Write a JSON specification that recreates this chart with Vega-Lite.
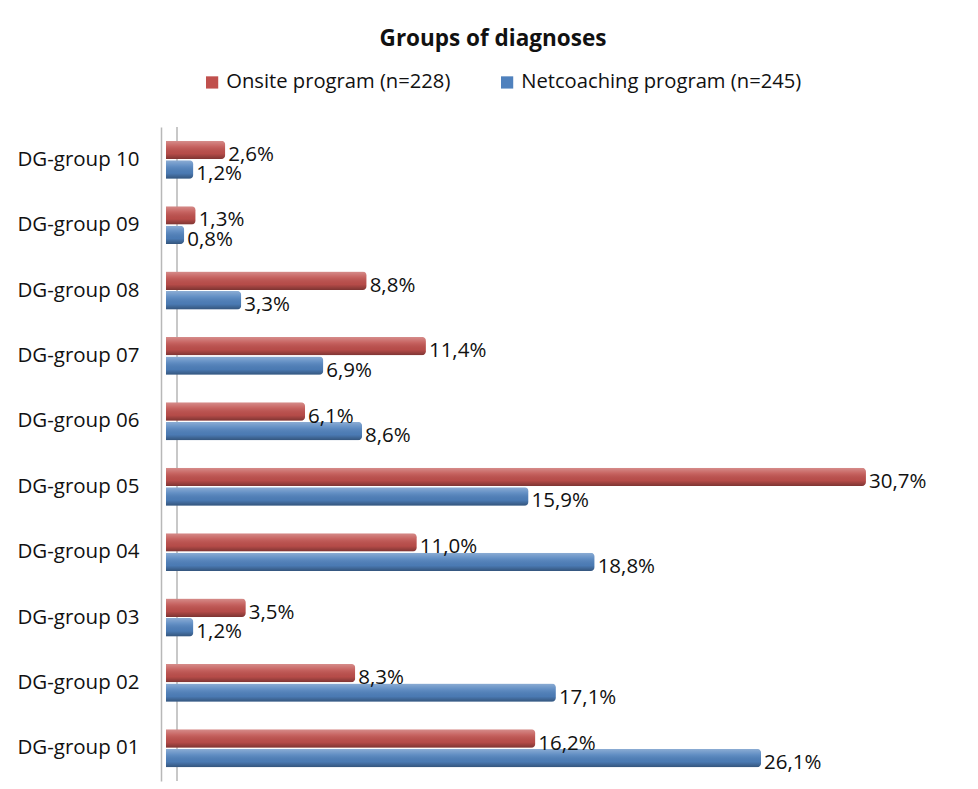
{
  "$schema": "https://vega.github.io/schema/vega-lite/v6.json",
  "width": 798,
  "height": 654,
  "autosize": {"type": "none"},
  "padding": {"left": 166, "top": 127, "right": 14, "bottom": 8},
  "background": "white",
  "title": {
    "text": "Groups of diagnoses",
    "font": "Open Sans",
    "fontSize": 22.5,
    "fontWeight": "bold",
    "color": "#111111",
    "anchor": "middle",
    "dx": -72,
    "offset": 22
  },
  "data": {
    "values": [
      {"group": "DG-group 10", "series": "Onsite program (n=228)", "value": 0.026},
      {"group": "DG-group 10", "series": "Netcoaching program (n=245)", "value": 0.012},
      {"group": "DG-group 09", "series": "Onsite program (n=228)", "value": 0.013},
      {"group": "DG-group 09", "series": "Netcoaching program (n=245)", "value": 0.008},
      {"group": "DG-group 08", "series": "Onsite program (n=228)", "value": 0.088},
      {"group": "DG-group 08", "series": "Netcoaching program (n=245)", "value": 0.033},
      {"group": "DG-group 07", "series": "Onsite program (n=228)", "value": 0.114},
      {"group": "DG-group 07", "series": "Netcoaching program (n=245)", "value": 0.069},
      {"group": "DG-group 06", "series": "Onsite program (n=228)", "value": 0.061},
      {"group": "DG-group 06", "series": "Netcoaching program (n=245)", "value": 0.086},
      {"group": "DG-group 05", "series": "Onsite program (n=228)", "value": 0.307},
      {"group": "DG-group 05", "series": "Netcoaching program (n=245)", "value": 0.159},
      {"group": "DG-group 04", "series": "Onsite program (n=228)", "value": 0.110},
      {"group": "DG-group 04", "series": "Netcoaching program (n=245)", "value": 0.188},
      {"group": "DG-group 03", "series": "Onsite program (n=228)", "value": 0.035},
      {"group": "DG-group 03", "series": "Netcoaching program (n=245)", "value": 0.012},
      {"group": "DG-group 02", "series": "Onsite program (n=228)", "value": 0.083},
      {"group": "DG-group 02", "series": "Netcoaching program (n=245)", "value": 0.171},
      {"group": "DG-group 01", "series": "Onsite program (n=228)", "value": 0.162},
      {"group": "DG-group 01", "series": "Netcoaching program (n=245)", "value": 0.261}
    ]
  },
  "encoding": {
    "y": {
      "field": "group",
      "type": "nominal",
      "sort": "descending",
      "scale": {"paddingInner": 0.42, "paddingOuter": 0.21},
      "axis": {
        "title": null,
        "ticks": false,
        "labelFont": "Open Sans",
        "labelFontSize": 20.5,
        "labelColor": "#111111",
        "labelPadding": 22,
        "domain": true,
        "domainColor": "#b8b8b8",
        "domainWidth": 1.5,
        "offset": 5,
        "grid": false
      }
    },
    "yOffset": {
      "field": "series",
      "type": "nominal",
      "sort": ["Onsite program (n=228)", "Netcoaching program (n=245)"],
      "scale": {"paddingInner": 0.06}
    },
    "x": {
      "field": "value",
      "type": "quantitative",
      "scale": {"domain": [0, 0.35], "nice": false},
      "axis": null
    }
  },
  "layer": [
    {
      "mark": {"type": "rule", "color": "#c8c8c8", "strokeWidth": 1.2},
      "encoding": {
        "x": {"datum": 0.0048, "type": "quantitative"},
        "y": null,
        "yOffset": null
      }
    },
    {
      "mark": {"type": "bar", "cornerRadiusEnd": 4, "yOffset": -3},
      "encoding": {
        "color": {
          "field": "series",
          "type": "nominal",
          "sort": ["Onsite program (n=228)", "Netcoaching program (n=245)"],
          "scale": {"range": ["#C0504D", "#4F81BD"]},
          "legend": {
            "title": null,
            "orient": "none",
            "legendX": 36,
            "legendY": -55,
            "direction": "horizontal",
            "symbolType": "square",
            "symbolSize": 150,
            "symbolStrokeWidth": 0,
            "labelFont": "Open Sans",
            "labelFontSize": 20.2,
            "labelColor": "#111111",
            "labelOffset": 4,
            "labelLimit": 400,
            "columnPadding": 46
          }
        }
      }
    },
    {
      "mark": {
        "type": "bar",
        "cornerRadiusEnd": 4,
        "yOffset": -3,
        "fill": {
          "gradient": "linear",
          "x1": 0, "y1": 0, "x2": 0, "y2": 1,
          "stops": [
            {"offset": 0, "color": "rgba(255,255,255,0.35)"},
            {"offset": 0.3, "color": "rgba(255,255,255,0.12)"},
            {"offset": 0.7, "color": "rgba(0,0,0,0.05)"},
            {"offset": 1, "color": "rgba(0,0,0,0.35)"}
          ]
        }
      }
    },
    {
      "mark": {
        "type": "text",
        "align": "left",
        "baseline": "middle",
        "dx": 3,
        "dy": 5,
        "font": "Open Sans",
        "fontSize": 20.5,
        "color": "#111111"
      },
      "encoding": {
        "text": {"field": "value", "type": "quantitative", "format": ".1%"}
      }
    }
  ],
  "config": {
    "view": {"stroke": null},
    "locale": {
      "number": {"decimal": ",", "thousands": ".", "grouping": [3], "currency": ["", " €"]}
    }
  }
}
